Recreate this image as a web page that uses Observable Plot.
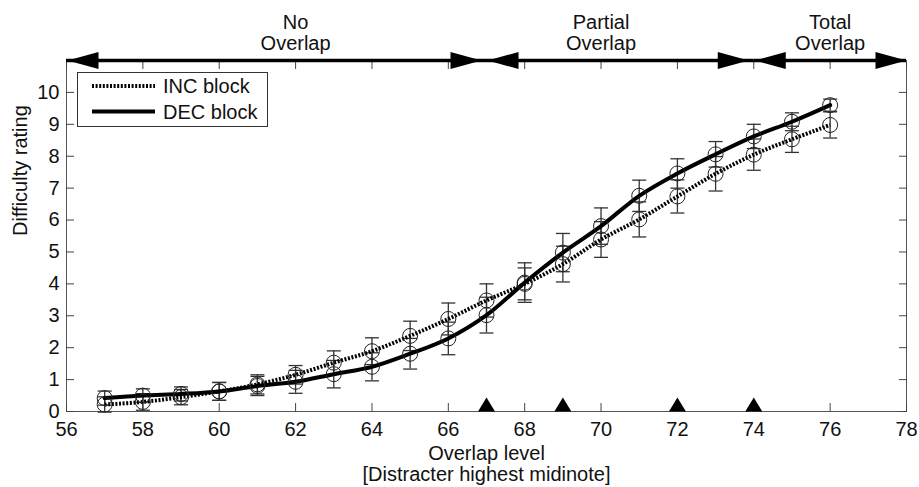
<!DOCTYPE html>
<html>
<head>
<meta charset="utf-8">
<script src="https://cdn.jsdelivr.net/npm/d3@7"></script>
<script src="https://cdn.jsdelivr.net/npm/@observablehq/plot@0.6"></script>
<style>
  html, body { margin: 0; padding: 0; background: #fff; }
  #chart { width: 919px; height: 487px; }
</style>
</head>
<body>
<div id="chart"></div>
<script>
// ---- data ----
const levels  = [57, 58, 59, 60, 61, 62, 63, 64, 65, 66, 67, 68, 69, 70, 71, 72, 73, 74, 75, 76];
const incMean = [0.22, 0.30, 0.45, 0.63, 0.85, 1.15, 1.53, 1.89, 2.37, 2.90, 3.48, 4.00, 4.62, 5.39, 6.02, 6.74, 7.45, 8.05, 8.53, 8.98];
const incSE   = [0.24, 0.26, 0.24, 0.28, 0.30, 0.29, 0.37, 0.42, 0.46, 0.50, 0.52, 0.50, 0.56, 0.56, 0.55, 0.52, 0.54, 0.49, 0.41, 0.41];
const decMean = [0.42, 0.50, 0.55, 0.63, 0.80, 0.93, 1.17, 1.40, 1.81, 2.29, 3.02, 4.04, 4.98, 5.81, 6.76, 7.46, 8.06, 8.62, 9.08, 9.60];
const decSE   = [0.22, 0.21, 0.22, 0.28, 0.30, 0.36, 0.43, 0.44, 0.48, 0.51, 0.56, 0.62, 0.60, 0.57, 0.49, 0.46, 0.40, 0.38, 0.28, 0.19];
const seriesNames = ["INC block", "DEC block"];

const xTicks = [56, 58, 60, 62, 64, 66, 68, 70, 72, 74, 76, 78];
const yTicks = [0, 1, 2, 3, 4, 5, 6, 7, 8, 9, 10];
const xDomain = [56, 78];
const yDomain = [0, 11];

const markerLevels = [67, 69, 72, 74];

const regionNames  = ["No\nOverlap", "Partial\nOverlap", "Total\nOverlap"];
const regionStart  = [56, 67, 74];
const regionEnd    = [67, 74, 78];
const regionLabelX = [62, 70, 76];

const xLabel = "Overlap level\n[Distracter highest midinote]";
const yLabel = "Difficulty rating";

// ---- tables built from arrays ----
const rows = [];
levels.forEach((lv, i) => {
  rows.push({series: seriesNames[0], level: lv, mean: incMean[i], se: incSE[i]});
  rows.push({series: seriesNames[1], level: lv, mean: decMean[i], se: decSE[i]});
});
const regions = regionNames.map((n, i) => ({name: n, start: regionStart[i], end: regionEnd[i], mid: regionLabelX[i]}));

// ---- custom symbols ----
const headRight = {draw(c) { c.moveTo(0, 0); c.lineTo(-31, -8.5); c.lineTo(-31, 8.5); c.closePath(); }};
const headLeft  = {draw(c) { c.moveTo(0, 0); c.lineTo(31, -8.5); c.lineTo(31, 8.5); c.closePath(); }};
const triUp     = {draw(c) { c.moveTo(-8.5, 0); c.lineTo(8.5, 0); c.lineTo(0, -14); c.closePath(); }};
const cap       = {draw(c) { c.moveTo(-7, 0); c.lineTo(7, 0); }};

const font = "'Liberation Sans', Arial, Helvetica, sans-serif";
const yTop = yDomain[1];
const incDash = "2,1.6";

const plot = Plot.plot({
  width: 919,
  height: 487,
  marginLeft: 66,
  marginRight: 13,
  marginTop: 60,
  marginBottom: 76,
  style: {fontFamily: font, fontSize: "20px", color: "#111", background: "#fff"},
  x: {domain: xDomain, ticks: xTicks},
  y: {domain: yDomain, ticks: yTicks},
  marks: [
    Plot.frame({stroke: "#555", strokeWidth: 1}),
    // inward ticks on four sides
    Plot.axisX({anchor: "bottom", ticks: xTicks, tickSize: 8, dy: -8, tickFormat: () => "", label: null, stroke: "#444"}),
    Plot.axisX({anchor: "top", ticks: xTicks, tickSize: 8, dy: 8, tickFormat: () => "", label: null, stroke: "#444"}),
    Plot.axisY({anchor: "left", ticks: yTicks, tickSize: 8, dx: 8, tickFormat: () => "", label: null, stroke: "#444"}),
    Plot.axisY({anchor: "right", ticks: yTicks, tickSize: 8, dx: -8, tickFormat: () => "", label: null, stroke: "#444"}),
    // tick labels
    Plot.axisX({anchor: "bottom", ticks: xTicks, tickSize: 0, tickPadding: 10, label: null, fontSize: 20, fill: "#111"}),
    Plot.axisY({anchor: "left", ticks: yTicks, tickSize: 0, tickPadding: 7, label: null, fontSize: 20, fill: "#111"}),
    // axis titles
    Plot.text([yLabel], {frameAnchor: "left", rotate: -90, dx: -46, text: d => d, fontSize: 20, fill: "#111"}),
    Plot.text([xLabel], {frameAnchor: "bottom", lineAnchor: "middle", dy: 52, text: d => d, fontSize: 20, lineHeight: 1.05, fill: "#111"}),
    // region arrows along the top
    Plot.ruleY(regions, {y: () => yTop, x1: "start", x2: "end", stroke: "#000", strokeWidth: 3.5}),
    Plot.dot(regions, {x: "start", y: () => yTop, dx: 1, symbol: headLeft, fill: "#000", stroke: "none"}),
    Plot.dot(regions, {filter: (d, i) => i < regions.length - 1, x: "end", y: () => yTop, dx: -5, symbol: headRight, fill: "#000", stroke: "none"}),
    Plot.dot(regions, {filter: (d, i) => i === regions.length - 1, x: "end", y: () => yTop, symbol: headRight, fill: "#000", stroke: "none"}),
    Plot.text(regions, {x: "mid", y: () => yTop, dy: -28, text: "name", fontSize: 20, lineHeight: 1.05, fill: "#111"}),
    // markers on x axis
    Plot.dot(markerLevels, {x: d => d, frameAnchor: "bottom", symbol: triUp, fill: "#000", stroke: "none"}),
    // error bars
    Plot.ruleX(rows, {x: "level", y1: d => d.mean - d.se, y2: d => d.mean + d.se, stroke: "#333", strokeWidth: 1.3}),
    Plot.dot(rows, {x: "level", y: d => d.mean + d.se, symbol: cap, stroke: "#333", fill: "none", strokeWidth: 1.3}),
    Plot.dot(rows, {x: "level", y: d => d.mean - d.se, symbol: cap, stroke: "#333", fill: "none", strokeWidth: 1.3}),
    // lines
    Plot.line(rows.filter(d => d.series === seriesNames[0]), {x: "level", y: "mean", curve: "catmull-rom", stroke: "#000", strokeWidth: 4, strokeDasharray: incDash, strokeLinecap: "butt"}),
    Plot.line(rows.filter(d => d.series === seriesNames[1]), {x: "level", y: "mean", curve: "catmull-rom", stroke: "#000", strokeWidth: 4}),
    // circles
    Plot.dot(rows, {x: "level", y: "mean", r: 7.5, stroke: "#222", fill: "none", strokeWidth: 1})
  ]
});

// ---- legend (overlay inside the svg) ----
const svg = d3.select(plot);
const lg = svg.append("g").attr("font-family", font).attr("font-size", 20).attr("fill", "#111").attr("text-anchor", "start");
lg.append("rect").attr("x", 77.5).attr("y", 72.5).attr("width", 190).attr("height", 54)
  .attr("fill", "#fff").attr("stroke", "#333").attr("stroke-width", 1);
const legendStyles = [{dash: incDash}, {dash: null}];
seriesNames.forEach((name, i) => {
  const yy = 86 + i * 25.5;
  const ln = lg.append("line").attr("x1", 92).attr("x2", 155).attr("y1", yy).attr("y2", yy)
    .attr("stroke", "#000").attr("stroke-width", 4).attr("stroke-linecap", "butt");
  if (legendStyles[i].dash) ln.attr("stroke-dasharray", legendStyles[i].dash);
  lg.append("text").attr("x", 163).attr("y", yy).attr("dy", "0.35em").text(name);
});

document.getElementById("chart").appendChild(plot);
</script>
</body>
</html>
